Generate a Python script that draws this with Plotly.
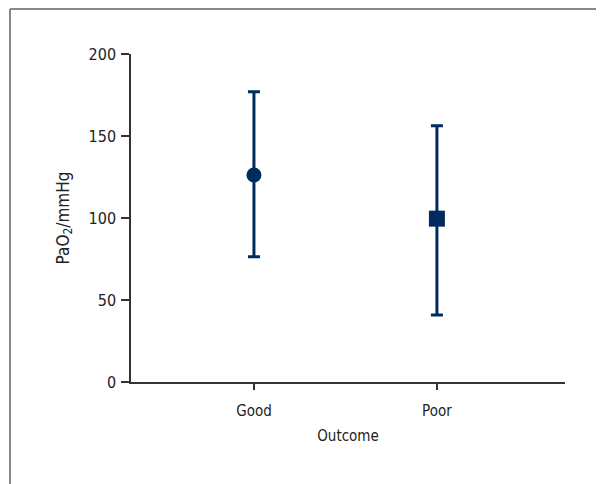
import plotly.graph_objects as go

categories = ["Good", "Poor"]
means = [126.2, 99.6]
upper = [177.0, 156.3]
lower = [76.4, 40.9]
symbols = ["circle", "square"]
y_ticks = [0, 50, 100, 150, 200]

color = "#002B5E"
font_family = "DejaVu Sans Condensed"
tf = dict(family=font_family, size=15, color="#222")

fig = go.Figure()
for i, cat in enumerate(categories):
    fig.add_trace(go.Scatter(
        x=[i], y=[means[i]],
        mode="markers",
        marker=dict(symbol=symbols[i], size=15 if symbols[i] == "circle" else 16, color=color),
        error_y=dict(type="data", symmetric=False,
                     array=[upper[i] - means[i]], arrayminus=[means[i] - lower[i]],
                     color=color, thickness=3, width=6),
        showlegend=False, name=cat,
    ))

# page body has an 8px default margin; compensate so the plot lands where the reference has it
fig.update_layout(
    width=596, height=476,
    margin=dict(l=123, r=39, t=46, b=102),
    paper_bgcolor="white", plot_bgcolor="white",
    font=tf,
    xaxis=dict(range=[-0.672, 1.70], tickvals=[0, 1], ticktext=categories,
               showgrid=False, zeroline=False, showline=True, linecolor="#333", linewidth=1.5,
               ticks="outside", ticklen=6, tickcolor="#333", tickwidth=1.5,
               tickfont=tf, ticklabelstandoff=8,
               title=dict(text="Outcome", standoff=12, font=tf),
               fixedrange=True),
    yaxis=dict(range=[0, 200], tickvals=y_ticks,
               showgrid=False, zeroline=False, showline=True, linecolor="#333", linewidth=1.5,
               ticks="outside", ticklen=8, tickcolor="#333", tickwidth=1.5,
               tickfont=dict(family=font_family, size=16, color="#222"), ticklabelstandoff=2,
               title=dict(text="PaO<sub>2</sub>/mmHg", standoff=15,
                          font=dict(family=font_family, size=17, color="#222")),
               fixedrange=True),
    shapes=[
        dict(type="line", xref="paper", yref="paper", x0=-0.2788, x1=-0.2788, y0=1.1372, y1=-0.4,
             line=dict(color="#888", width=2)),
        dict(type="line", xref="paper", yref="paper", x0=-0.2788, x1=1.2, y0=1.1372, y1=1.1372,
             line=dict(color="#888", width=2)),
    ],
)

fig.write_html("out.html")
